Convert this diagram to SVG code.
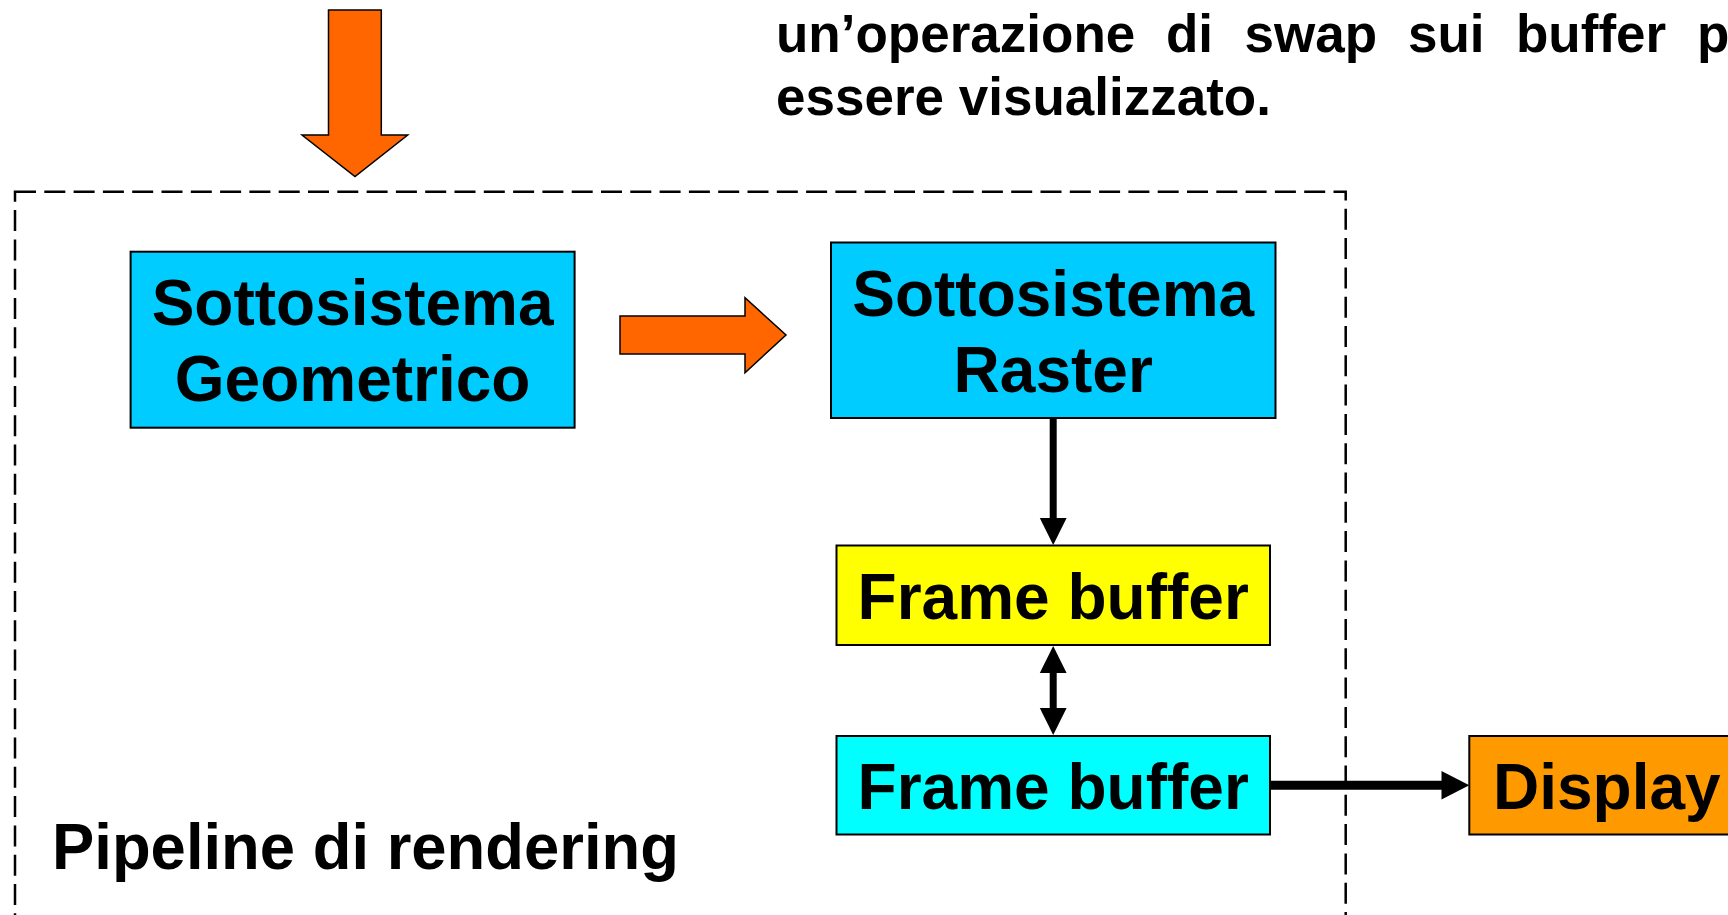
<svg xmlns="http://www.w3.org/2000/svg" width="1728" height="915" viewBox="0 0 1728 915">
<style>
  .t { font-family: "Liberation Sans", Arial, sans-serif; font-weight: bold; fill: #000; }
  .big { font-size: 64px; }
  .top { font-size: 53px; }
  .box { stroke: #000; stroke-width: 2; }
  .block { fill: #FF6600; stroke: #000; stroke-width: 1.5; stroke-linejoin: miter; }
  .line { stroke: #000; fill: none; }
  .head { fill: #000; stroke: none; }
</style>
<rect width="1728" height="915" fill="#fff"/>

<g id="caption">
  <text class="t top" y="52"><tspan x="776">un’operazione</tspan><tspan x="1166">di</tspan><tspan x="1244.5">swap</tspan><tspan x="1408">sui</tspan><tspan x="1516">buffer</tspan><tspan x="1697">p</tspan></text>
  <text class="t top" x="776" y="115">essere visualizzato.</text>
</g>

<g id="pipeline">
  <rect x="15" y="191.7" width="1330.7" height="740" fill="none" stroke="#000" stroke-width="2.5" stroke-dasharray="21 8.3"/>
  <text class="t big" x="52" y="869" textLength="627" lengthAdjust="spacingAndGlyphs">Pipeline di rendering</text>
</g>

<g id="geometrico">
  <rect class="box" x="130.6" y="251.7" width="444" height="176" fill="#00CCFF"/>
  <text class="t big" x="352.6" y="325" text-anchor="middle">Sottosistema</text>
  <text class="t big" x="352.6" y="401" text-anchor="middle">Geometrico</text>
</g>

<g id="raster">
  <rect class="box" x="831" y="242.5" width="444.5" height="175.5" fill="#00CCFF"/>
  <text class="t big" x="1053.2" y="316" text-anchor="middle">Sottosistema</text>
  <text class="t big" x="1053.2" y="392" text-anchor="middle">Raster</text>
</g>

<g id="framebuffer1">
  <rect class="box" x="836.5" y="545.5" width="433.5" height="99.5" fill="#FFFF00"/>
  <text class="t big" x="1053.2" y="618.5" text-anchor="middle">Frame buffer</text>
</g>

<g id="framebuffer2">
  <rect class="box" x="836.5" y="736" width="433.5" height="98.5" fill="#00FFFF"/>
  <text class="t big" x="1053.2" y="808.5" text-anchor="middle">Frame buffer</text>
</g>

<g id="display">
  <rect class="box" x="1469.3" y="736" width="270" height="98.5" fill="#FF9900"/>
  <text class="t big" x="1493" y="809">Display</text>
</g>

<g id="connectors">
  <polygon class="block" points="328.5,10 381.3,10 381.3,135 407.7,135 355,176.5 302,135 328.5,135"/>
  <polygon class="block" points="620,316 745,316 745,297.7 786,335 745,372.7 745,354 620,354"/>
  <line class="line" x1="1053.2" y1="418" x2="1053.2" y2="521" stroke-width="7"/>
  <polygon class="head" points="1039.8,518 1066.6,518 1053.2,545"/>
  <line class="line" x1="1053.2" y1="670" x2="1053.2" y2="711" stroke-width="7"/>
  <polygon class="head" points="1053.2,646 1066.6,673 1039.8,673"/>
  <polygon class="head" points="1039.8,708 1066.6,708 1053.2,735"/>
  <line class="line" x1="1270" y1="785.3" x2="1444" y2="785.3" stroke-width="9"/>
  <polygon class="head" points="1441.5,771 1469.3,785.3 1441.5,799.6"/>
</g>
</svg>
